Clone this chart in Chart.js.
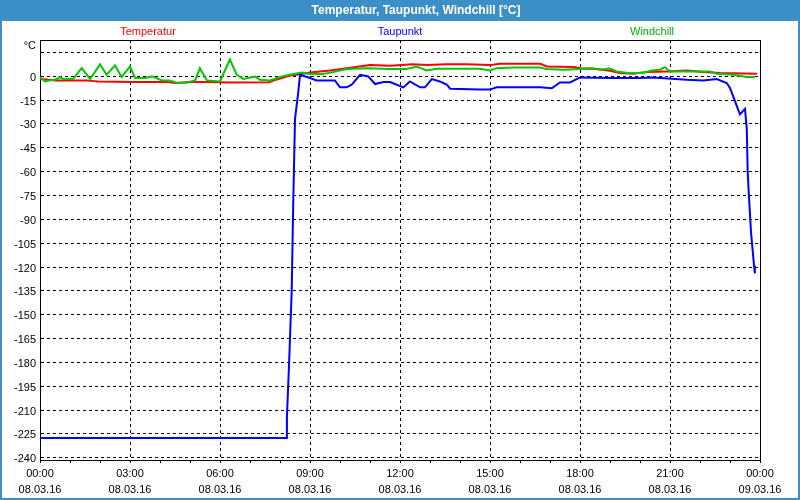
<!DOCTYPE html>
<html>
<head>
<meta charset="utf-8">
<script src="https://cdn.jsdelivr.net/npm/chart.js@4.4.1/dist/chart.umd.min.js"></script>
<style>
html,body{margin:0;padding:0;background:#3c8fc6;overflow:hidden;}
#wrap{width:800px;height:500px;position:relative;}
</style>
</head>
<body>
<div id="wrap"><canvas id="c" width="800" height="500"></canvas></div>
<script>
// ---- texts ----
const chartTitle = "Temperatur, Taupunkt, Windchill [°C]";
const unitLabel = "°C";
const seriesNames = ["Temperatur", "Taupunkt", "Windchill"];

// ---- tick labels ----
const xTickHours = [0, 3, 6, 9, 12, 15, 18, 21, 24];
const xTickTimes = ["00:00", "03:00", "06:00", "09:00", "12:00", "15:00", "18:00", "21:00", "00:00"];
const xTickDates = ["08.03.16", "08.03.16", "08.03.16", "08.03.16", "08.03.16", "08.03.16", "08.03.16", "08.03.16", "09.03.16"];
const yTickValues = [15, 0, -15, -30, -45, -60, -75, -90, -105, -120, -135, -150, -165, -180, -195, -210, -225, -240];

// ---- series: Temperatur ----
const tempHours = [0, 0.53, 1.53, 1.93, 3.13, 4.23, 4.53, 5.03, 5.53, 6.33, 7.63, 7.9, 8.33, 8.63, 9.0, 9.67, 10.23, 11.0, 11.67, 12.43, 12.9, 13.53, 14.23, 15.0, 15.33, 16.67, 16.9, 17.78, 18.0, 18.57, 19.0, 19.33, 19.77, 20.22, 20.9, 21.57, 22.1, 22.67, 23.9];
const tempValues = [-1.8, -2.6, -2.6, -3.3, -3.6, -3.6, -4.2, -3.6, -3.6, -4.0, -3.8, -2.0, 0.5, 1.1, 2.4, 3.6, 5.1, 7.0, 6.6, 7.6, 7.0, 7.6, 7.6, 7.0, 7.8, 7.8, 6.1, 5.75, 5.1, 4.5, 3.4, 2.0, 1.6, 2.6, 3.0, 3.6, 2.6, 2.0, 1.6];

// ---- series: Taupunkt ----
const dewHours = [0, 8.2, 8.23, 8.31, 8.39, 8.44, 8.5, 8.59, 8.67, 9.0, 9.22, 9.83, 10.0, 10.22, 10.39, 10.67, 10.94, 11.17, 11.44, 11.67, 12.11, 12.33, 12.67, 12.83, 13.06, 13.33, 13.56, 13.67, 14.67, 15.0, 15.22, 15.56, 16.67, 17.06, 17.33, 17.67, 18.0, 19.0, 20.0, 20.44, 21.56, 22.11, 22.56, 22.89, 23.0, 23.17, 23.33, 23.5, 23.56, 23.59, 23.63, 23.7, 23.76, 23.8, 23.83];
const dewValues = [-227.5, -227.5, -215, -177, -135, -81, -27, -13, 0.9, -1.1, -2.6, -2.6, -7, -7, -5.3, 0.9, -0.1, -4.9, -3.6, -3.6, -7, -3.3, -7, -7, -1.75, -3.3, -5.3, -7.8, -8.4, -8.4, -7, -7, -7, -7.6, -3.9, -3.9, -0.75, -1.1, -1.1, -0.75, -2.2, -2.6, -1.75, -4.25, -7.4, -15.75, -24, -20.5, -33.4, -60.5, -75, -98, -110.5, -119, -124];

// ---- series: Windchill ----
const chillHours = [0, 0.17, 0.33, 0.5, 0.67, 0.77, 1.1, 1.39, 1.67, 2.0, 2.22, 2.5, 2.72, 3.0, 3.17, 3.5, 3.73, 4.06, 4.33, 4.56, 4.89, 5.17, 5.33, 5.56, 6.0, 6.33, 6.56, 6.78, 7.17, 7.33, 7.67, 8.0, 8.33, 8.72, 9.0, 9.43, 9.77, 10.1, 10.39, 10.93, 11.67, 12.22, 12.56, 12.89, 13.22, 13.77, 14.67, 15.0, 15.22, 15.77, 16.67, 16.89, 17.44, 18.0, 18.39, 18.67, 19.0, 19.22, 19.61, 20.11, 20.39, 20.67, 20.83, 21.0, 21.56, 22.33, 22.56, 23.11, 23.56, 23.83];
const chillValues = [-0.5, -3.3, -2.6, -2.2, -0.6, -1.8, -1.8, 5.1, -1.8, 7.5, 0.9, 6.8, -0.5, 6.2, -1.1, -1.1, -0.1, -2.6, -2.6, -4.2, -3.9, -2.6, 5.1, -2.6, -3.3, 10.5, 0.9, -1.75, -0.2, -2.2, -2.6, -0.5, 0.9, 2.4, 1.4, 1.4, 2.6, 4.1, 4.7, 5.1, 4.5, 4.5, 6.1, 3.6, 4.7, 4.7, 4.7, 3.6, 5.1, 5.5, 5.5, 4.5, 4.1, 4.5, 5.1, 4.1, 4.9, 3.0, 2.0, 2.0, 3.6, 4.1, 5.75, 3.0, 3.0, 3.0, 1.6, 0.9, -0.5, -0.5];

const toPoints = (hs, vs) => hs.map((h, i) => ({ x: h, y: vs[i] }));

const FONT = '"Liberation Sans", Arial, sans-serif';
Chart.defaults.font.family = FONT;
Chart.defaults.font.size = 11;
Chart.defaults.color = '#000';

const framePlugin = {
  id: 'frame',
  beforeDraw(chart) {
    const ctx = chart.ctx;
    ctx.save();
    ctx.fillStyle = '#3c8fc6';
    ctx.fillRect(0, 0, chart.width, chart.height);
    ctx.fillStyle = '#ffffff';
    ctx.fillRect(2, 21, 796, 477);
    ctx.restore();
  },
  afterDraw(chart) {
    const ctx = chart.ctx, a = chart.chartArea;
    ctx.save();
    // title
    ctx.fillStyle = '#ffffff';
    ctx.font = 'bold 12px ' + FONT;
    ctx.textAlign = 'center';
    ctx.textBaseline = 'middle';
    ctx.fillText(chartTitle, 416, 11);
    // spread legend
    ctx.font = '11px ' + FONT;
    const fr = [0.15, 0.5, 0.85];
    chart.data.datasets.forEach((d, i) => {
      ctx.fillStyle = d.legendColor;
      ctx.fillText(d.label, a.left + fr[i] * (a.right - a.left), 32);
    });
    // unit
    ctx.textAlign = 'right';
    ctx.fillStyle = '#000';
    ctx.fillText(unitLabel, a.left - 4, 46);
    // top / right frame
    ctx.strokeStyle = '#000';
    ctx.lineWidth = 1;
    ctx.beginPath();
    ctx.moveTo(a.left, a.top + 0.5);
    ctx.lineTo(a.right + 0.5, a.top + 0.5);
    ctx.lineTo(a.right + 0.5, a.bottom);
    ctx.stroke();
    ctx.restore();
  }
};

new Chart(document.getElementById('c'), {
  type: 'line',
  data: {
    datasets: [
      { label: seriesNames[0], data: toPoints(tempHours, tempValues), borderColor: '#ff0000', legendColor: '#ff0000', borderWidth: 2, pointRadius: 0, tension: 0, order: 2 },
      { label: seriesNames[1], data: toPoints(dewHours, dewValues), borderColor: '#0000ff', legendColor: '#0000ff', borderWidth: 2, pointRadius: 0, tension: 0, order: 0 },
      { label: seriesNames[2], data: toPoints(chillHours, chillValues), borderColor: '#00c800', legendColor: '#00b400', borderWidth: 2, pointRadius: 0, tension: 0, order: 1 }
    ]
  },
  options: {
    responsive: false,
    animation: false,
    devicePixelRatio: 1,
    layout: { padding: { left: 0, right: 40, top: 40, bottom: 0 } },
    plugins: { legend: { display: false }, tooltip: { enabled: false }, title: { display: false } },
    scales: {
      x: {
        type: 'linear',
        min: 0, max: 24,
        afterFit(s) { s.height = 40; },
        grid: {
          color: (c) => (c.tick && xTickHours.includes(c.tick.value)) ? '#000' : 'rgba(0,0,0,0)',
          tickColor: '#000',
          tickLength: 3,
          lineWidth: 1
        },
        border: { display: true, color: '#000', width: 1, dash: [3, 3] },
        ticks: {
          stepSize: 1,
          autoSkip: false,
          maxRotation: 0,
          minRotation: 0,
          padding: 3,
          color: '#000',
          font: { size: 11, lineHeight: 16 / 11 },
          callback(v) {
            const i = xTickHours.indexOf(v);
            return i >= 0 ? [xTickTimes[i], xTickDates[i]] : '';
          }
        }
      },
      y: {
        min: -241.4, max: 22.8,
        afterFit(s) { s.width = 40; },
        afterBuildTicks(axis) { axis.ticks = yTickValues.map(v => ({ value: v })); },
        grid: { color: '#000', drawTicks: false, lineWidth: 1 },
        border: { display: true, color: '#000', width: 1, dash: [3, 3] },
        ticks: {
          padding: 4,
          labelOffset: 1.5,
          color: '#000',
          font: { size: 11 },
          callback(v) { return v === 15 ? '' : String(v); }
        }
      }
    }
  },
  plugins: [framePlugin]
});
</script>
</body>
</html>
